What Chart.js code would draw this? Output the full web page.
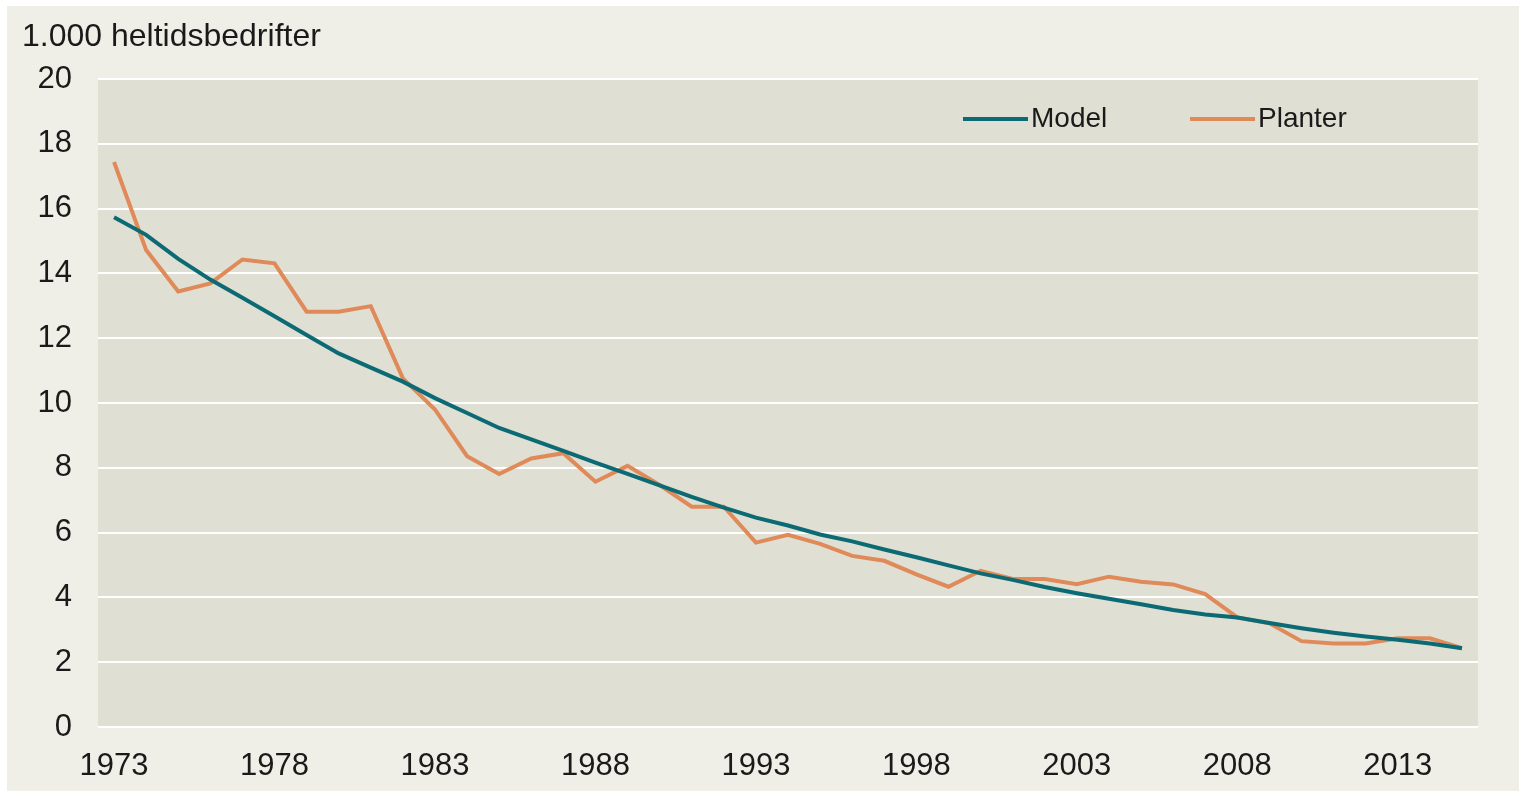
<!DOCTYPE html>
<html>
<head>
<meta charset="utf-8">
<script src="https://cdn.jsdelivr.net/npm/chart.js@4.4.1/dist/chart.umd.min.js"></script>
<style>
  html, body { margin: 0; padding: 0; background: #ffffff; }
  #wrap { width: 1519px; height: 797px; position: relative; }
  canvas { display: block; }
</style>
</head>
<body>
<div id="wrap"><canvas id="c" width="1519" height="797"></canvas></div>
<script>
// ---- data ----
const years = [];
for (let y = 1973; y <= 2015; y++) years.push(String(y));

const modelValues = [
  15.73, 15.19, 14.45, 13.81, 13.25, 12.68, 12.10, 11.53, 11.09, 10.66,
  10.15, 9.69, 9.23, 8.88, 8.52, 8.16, 7.81, 7.46, 7.10, 6.77,
  6.46, 6.22, 5.94, 5.73, 5.48, 5.24, 4.99, 4.74, 4.54, 4.32,
  4.13, 3.96, 3.79, 3.61, 3.47, 3.38, 3.21, 3.05, 2.91, 2.79,
  2.69, 2.58, 2.43
];

const planterValues = [
  17.44, 14.72, 13.44, 13.69, 14.43, 14.31, 12.82, 12.82, 12.99, 10.76,
  9.80, 8.36, 7.81, 8.29, 8.45, 7.57, 8.06, 7.47, 6.80, 6.80,
  5.69, 5.93, 5.65, 5.28, 5.13, 4.71, 4.33, 4.82, 4.57, 4.57,
  4.41, 4.64, 4.48, 4.40, 4.10, 3.38, 3.20, 2.65, 2.58, 2.58,
  2.74, 2.74, 2.43
];

const seriesLabels = ['Model', 'Planter'];
const yTitle = '1.000 heltidsbedrifter';

// ---- styles ----
const COLORS = { model: '#0b6a73', planter: '#e08a5a', outer: '#efefe8', plot: '#dfdfd3', text: '#1a1a1a' };
const FONT = 'Liberation Sans, Arial, sans-serif';

const decorPlugin = {
  id: 'decor',
  beforeDraw(chart) {
    const ctx = chart.ctx, a = chart.chartArea;
    ctx.save();
    ctx.fillStyle = COLORS.outer;
    ctx.fillRect(7, 6, chart.width - 7, chart.height - 6 - 6);
    ctx.fillStyle = COLORS.plot;
    ctx.fillRect(a.left, a.top, a.right - a.left, a.bottom - a.top);
    ctx.restore();
  },
  afterDraw(chart) {
    const ctx = chart.ctx, a = chart.chartArea;
    ctx.save();
    // axis title
    ctx.fillStyle = COLORS.text;
    ctx.font = '32px ' + FONT;
    ctx.textBaseline = 'middle';
    ctx.textAlign = 'left';
    ctx.fillText(yTitle, 22, 37);
    // legend inside plot area
    const ly = a.top + 40;
    const items = [
      { x: a.right - 515, ds: chart.data.datasets[0] },
      { x: a.right - 288, ds: chart.data.datasets[1] }
    ];
    ctx.font = '28px ' + FONT;
    items.forEach(it => {
      ctx.strokeStyle = it.ds.borderColor;
      ctx.lineWidth = 4;
      ctx.beginPath();
      ctx.moveTo(it.x, ly);
      ctx.lineTo(it.x + 65, ly);
      ctx.stroke();
      ctx.fillStyle = COLORS.text;
      ctx.fillText(it.ds.label, it.x + 68, ly);
    });
    ctx.restore();
  }
};

new Chart(document.getElementById('c'), {
  type: 'line',
  data: {
    labels: years,
    datasets: [
      { label: seriesLabels[0], data: modelValues, borderColor: COLORS.model, borderWidth: 4, pointRadius: 0, tension: 0, fill: false },
      { label: seriesLabels[1], data: planterValues, borderColor: COLORS.planter, borderWidth: 4, pointRadius: 0, tension: 0, fill: false }
    ]
  },
  options: {
    responsive: false,
    animation: false,
    devicePixelRatio: 1,
    layout: { padding: { left: 0, right: 41, top: 79, bottom: 0 } },
    plugins: { legend: { display: false }, title: { display: false }, tooltip: { enabled: false } },
    scales: {
      x: {
        type: 'category',
        offset: true,
        grid: { display: false, drawTicks: false },
        border: { display: false },
        ticks: {
          autoSkip: false,
          maxRotation: 0,
          minRotation: 0,
          padding: 21,
          color: COLORS.text,
          font: { family: FONT, size: 31 },
          callback: function(v, i) { return i % 5 === 0 ? this.getLabelForValue(v) : ''; }
        },
        afterFit(s) { s.height = 70; }
      },
      y: {
        min: 0, max: 20,
        grid: { color: '#ffffff', lineWidth: 2, drawTicks: false },
        border: { display: false },
        ticks: {
          stepSize: 2,
          padding: 26,
          color: COLORS.text,
          font: { family: FONT, size: 31 }
        },
        afterFit(s) { s.width = 98; }
      }
    }
  },
  plugins: [decorPlugin]
});
</script>
</body>
</html>
